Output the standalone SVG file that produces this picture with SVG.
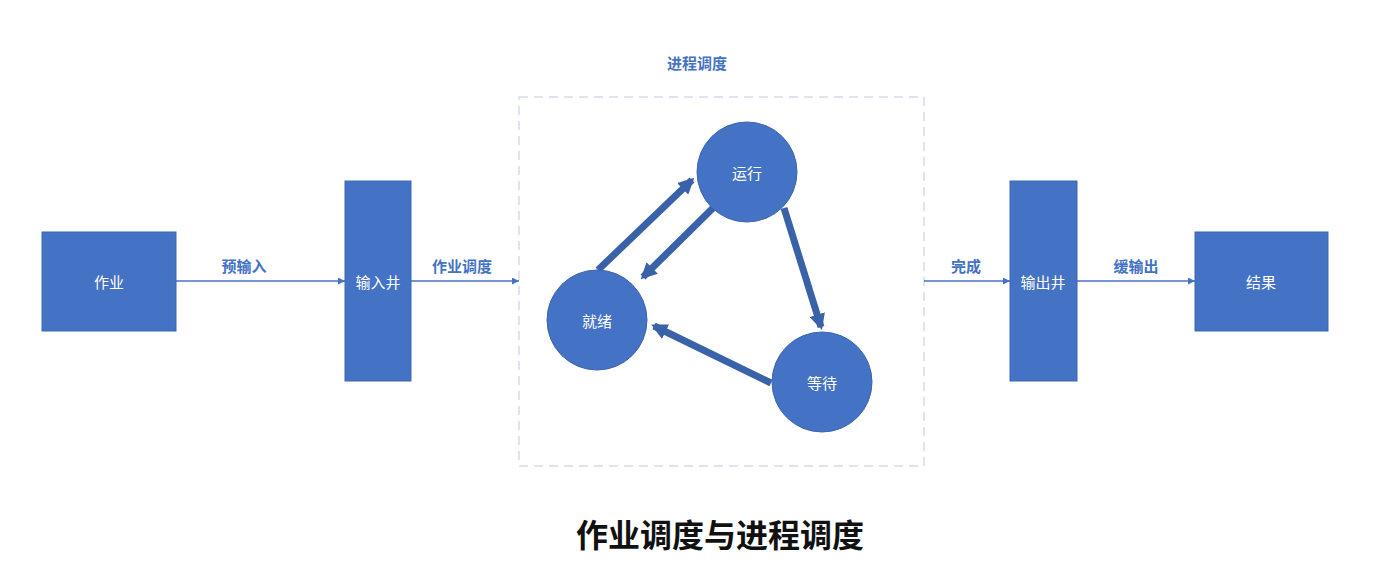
<svg xmlns="http://www.w3.org/2000/svg" width="1393" height="587" viewBox="0 0 1393 587">
<style>
.n{fill:#4472c4;stroke:#3d66b0;stroke-width:1}
.t{font-family:"Noto Sans CJK SC",sans-serif;font-size:15px;fill:#fff;text-anchor:middle;dominant-baseline:central}
.l{font-family:"Noto Sans CJK SC",sans-serif;font-size:15px;font-weight:bold;fill:#4472c4;text-anchor:middle}
.c{stroke:#4472c4;stroke-width:1.3;fill:none}
.b{stroke:#3a62a8;stroke-width:7;fill:none}
</style>
<defs>
<marker id="a" viewBox="0 0 10 10" refX="10" refY="5" markerWidth="7" markerHeight="7" orient="auto" markerUnits="userSpaceOnUse"><path d="M0,0L10,5L0,10z" fill="#4472c4"/></marker>
<marker id="b" viewBox="0 0 10 10" refX="8" refY="5" markerWidth="2.3" markerHeight="2.3" orient="auto"><path d="M0,0L10,5L0,10z" fill="#3a62a8"/></marker>
</defs>
<rect width="1393" height="587" fill="#fff"/>
<rect x="519" y="97" width="405" height="369" fill="none" stroke="#d6dcec" stroke-width="1.5" stroke-dasharray="9,6"/>
<text x="697" y="69" class="l">进程调度</text>
<g id="connectors">
<line x1="176" y1="281" x2="345" y2="281" class="c" marker-end="url(#a)"/>
<line x1="411" y1="281" x2="519" y2="281" class="c" marker-end="url(#a)"/>
<line x1="924" y1="281" x2="1010" y2="281" class="c" marker-end="url(#a)"/>
<line x1="1077" y1="281" x2="1195" y2="281" class="c" marker-end="url(#a)"/>
<line x1="598" y1="270" x2="692" y2="180" class="b" marker-end="url(#b)"/>
<line x1="713" y1="208" x2="643" y2="277" class="b" marker-end="url(#b)"/>
<line x1="784" y1="208" x2="821" y2="327" class="b" marker-end="url(#b)"/>
<line x1="771" y1="383" x2="654" y2="326" class="b" marker-end="url(#b)"/>
<text x="244" y="272" class="l">预输入</text>
<text x="462" y="272" class="l">作业调度</text>
<text x="966" y="272" class="l">完成</text>
<text x="1136" y="272" class="l">缓输出</text>
</g>
<g id="job"><rect x="42" y="232" width="134" height="99" class="n"/><text x="109" y="281" class="t">作业</text></g>
<g id="inwell"><rect x="345" y="181" width="66" height="200" class="n"/><text x="378" y="281" class="t">输入井</text></g>
<g id="outwell"><rect x="1010" y="181" width="67" height="200" class="n"/><text x="1043" y="281" class="t">输出井</text></g>
<g id="result"><rect x="1195" y="232" width="133" height="99" class="n"/><text x="1261" y="281" class="t">结果</text></g>
<g id="run"><circle cx="747" cy="172" r="50" class="n"/><text x="747" y="172" class="t">运行</text></g>
<g id="ready"><circle cx="597" cy="320" r="50" class="n"/><text x="597" y="320" class="t">就绪</text></g>
<g id="wait"><circle cx="822" cy="382" r="50" class="n"/><text x="822" y="382" class="t">等待</text></g>
<text x="720" y="547" font-family="Noto Sans CJK SC,sans-serif" font-size="32" font-weight="bold" text-anchor="middle" fill="#111">作业调度与进程调度</text>
</svg>
